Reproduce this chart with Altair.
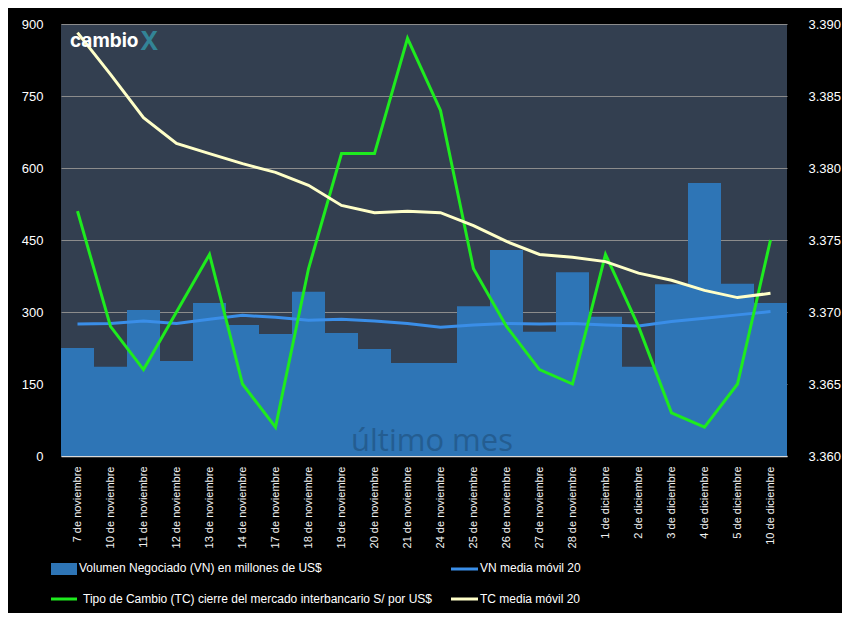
import altair as alt
import pandas as pd

fechas = ["7 de noviembre", "10 de noviembre", "11 de noviembre", "12 de noviembre",
          "13 de noviembre", "14 de noviembre", "17 de noviembre", "18 de noviembre",
          "19 de noviembre", "20 de noviembre", "21 de noviembre", "24 de noviembre",
          "25 de noviembre", "26 de noviembre", "27 de noviembre", "28 de noviembre",
          "1 de diciembre", "2 de diciembre", "3 de diciembre", "4 de diciembre",
          "5 de diciembre", "10 de diciembre"]
volumen = [225, 186, 304, 198, 319, 273, 254, 342, 256, 223, 194, 194,
           312, 429, 259, 383, 290, 186, 358, 569, 359, 319]
vn_mm20 = [275, 276, 281, 276, 285, 293, 289, 283, 285, 281, 276, 268,
           273, 276, 275, 276, 273, 271, 280, 287, 294, 301]
tc = [3.377, 3.369, 3.366, 3.370, 3.374, 3.365, 3.362, 3.373, 3.381, 3.381, 3.389,
      3.384, 3.373, 3.369, 3.366, 3.365, 3.374, 3.369, 3.363, 3.362, 3.365, 3.375]
tc_mm20 = [3.3894, 3.3865, 3.3835, 3.3817, 3.3810, 3.3803, 3.3797, 3.3788, 3.3774,
           3.3769, 3.3770, 3.3769, 3.3760, 3.3749, 3.3740, 3.3738, 3.3735, 3.3727,
           3.3722, 3.3715, 3.3710, 3.3713]
left_ticks = [0, 150, 300, 450, 600, 750, 900]
right_ticks = [3.360, 3.365, 3.370, 3.375, 3.380, 3.385, 3.390]

df = pd.DataFrame({"fecha": fechas, "vol": volumen, "vn": vn_mm20,
                   "tc": tc, "tcm": tc_mm20})
one = pd.DataFrame({"k": [0]})

FONT = "Liberation Sans"

x_axis = alt.Axis(title=None, labelAngle=-90, labelColor="#F2F2F2", labelFontSize=11,
                  labelFont=FONT, labelPadding=10, ticks=False, domainColor="#D9D9D9",
                  domainWidth=1.5, grid=False, labelOverlap=False)
x_scale = alt.Scale(paddingInner=0, paddingOuter=0)
x_bar = alt.X("fecha:N", sort=fechas, scale=x_scale, axis=x_axis)
x_line = alt.X("fecha:N", sort=fechas, scale=x_scale, axis=x_axis, bandPosition=0.5)

left_axis = alt.Axis(title=None, orient="left", values=left_ticks, labelColor="white",
                     labelFontSize=13, labelFont=FONT, labelPadding=18, ticks=False,
                     domain=False, grid=True, gridColor="#8C8C8C", gridWidth=1)
left_scale = alt.Scale(domain=[0, 900], nice=False, zero=True)

right_axis = alt.Axis(title=None, orient="right", values=right_ticks, format=".3f",
                      labelColor="white", labelFontSize=13, labelFont=FONT,
                      labelPadding=21, ticks=False, domain=False, grid=False)
right_scale = alt.Scale(domain=[3.36, 3.39], nice=False, zero=False)

base = alt.Chart(df)

bars = base.mark_bar(color="#2E75B6").encode(
    x=x_bar, y=alt.Y("vol:Q", scale=left_scale, axis=left_axis))

vn_line = base.mark_line(color="#3A8EE8", strokeWidth=3).encode(
    x=x_line, y=alt.Y("vn:Q", scale=left_scale, axis=left_axis))

watermark = alt.Chart(one).mark_text(
    text="último mes", font="Open Sans", fontSize=31, color="#1F4E79", opacity=0.6,
    align="center", baseline="alphabetic").encode(x=alt.value(371), y=alt.value(427))

left_layer = alt.layer(bars, watermark, vn_line)

tc_line = base.mark_line(color="#1EEB1E", strokeWidth=3).encode(
    x=x_line, y=alt.Y("tc:Q", scale=right_scale, axis=right_axis))
tcm_line = base.mark_line(color="#FFFFC8", strokeWidth=3).encode(
    x=x_line, y=alt.Y("tcm:Q", scale=right_scale, axis=right_axis))

right_layer = alt.layer(tc_line, tcm_line)

# logo
logo1 = alt.Chart(one).mark_text(text="cambio", font="Inter", fontWeight="bold",
                                 fontSize=19, color="white", align="left",
                                 baseline="middle").encode(x=alt.value(9), y=alt.value(17))
logo2 = alt.Chart(one).mark_text(text="X", font="Inter", fontWeight="bold", fontSize=25,
                                 color="#348C9E", opacity=0.9, align="left",
                                 baseline="middle").encode(x=alt.value(79), y=alt.value(18))

# legend
lg_txt = dict(font=FONT, fontSize=12, color="white", align="left", baseline="middle")
leg = [
    alt.Chart(one).mark_rect(color="#2E75B6").encode(
        x=alt.value(-10), x2=alt.value(16), y=alt.value(539), y2=alt.value(551)),
    alt.Chart(one).mark_text(text="Volumen Negociado (VN) en millones de US$", **lg_txt).encode(
        x=alt.value(18), y=alt.value(544)),
    alt.Chart(one).mark_rule(color="#3A8EE8", strokeWidth=3).encode(
        x=alt.value(390), x2=alt.value(417), y=alt.value(545)),
    alt.Chart(one).mark_text(text="VN media móvil 20", **lg_txt).encode(
        x=alt.value(419), y=alt.value(544)),
    alt.Chart(one).mark_rule(color="#1EEB1E", strokeWidth=3).encode(
        x=alt.value(-10), x2=alt.value(16), y=alt.value(575)),
    alt.Chart(one).mark_text(text="Tipo de Cambio (TC) cierre del mercado interbancario S/ por US$",
                             **lg_txt).encode(x=alt.value(22), y=alt.value(575)),
    alt.Chart(one).mark_rule(color="#FFFFC8", strokeWidth=3).encode(
        x=alt.value(390), x2=alt.value(417), y=alt.value(575)),
    alt.Chart(one).mark_text(text="TC media móvil 20", **lg_txt).encode(
        x=alt.value(419), y=alt.value(575)),
]

chart = alt.layer(left_layer, right_layer, logo1, logo2, *leg).resolve_scale(
    y="independent"
).properties(
    width=726, height=432,
    padding={"left": 53, "top": 16, "right": 55, "bottom": 157},
    autosize=alt.AutoSizeParams(type="none"),
    background="black",
).configure_view(fill="#333F50", stroke=None)

chart.save("out.html", embed_options={"renderer": "svg", "actions": False})
